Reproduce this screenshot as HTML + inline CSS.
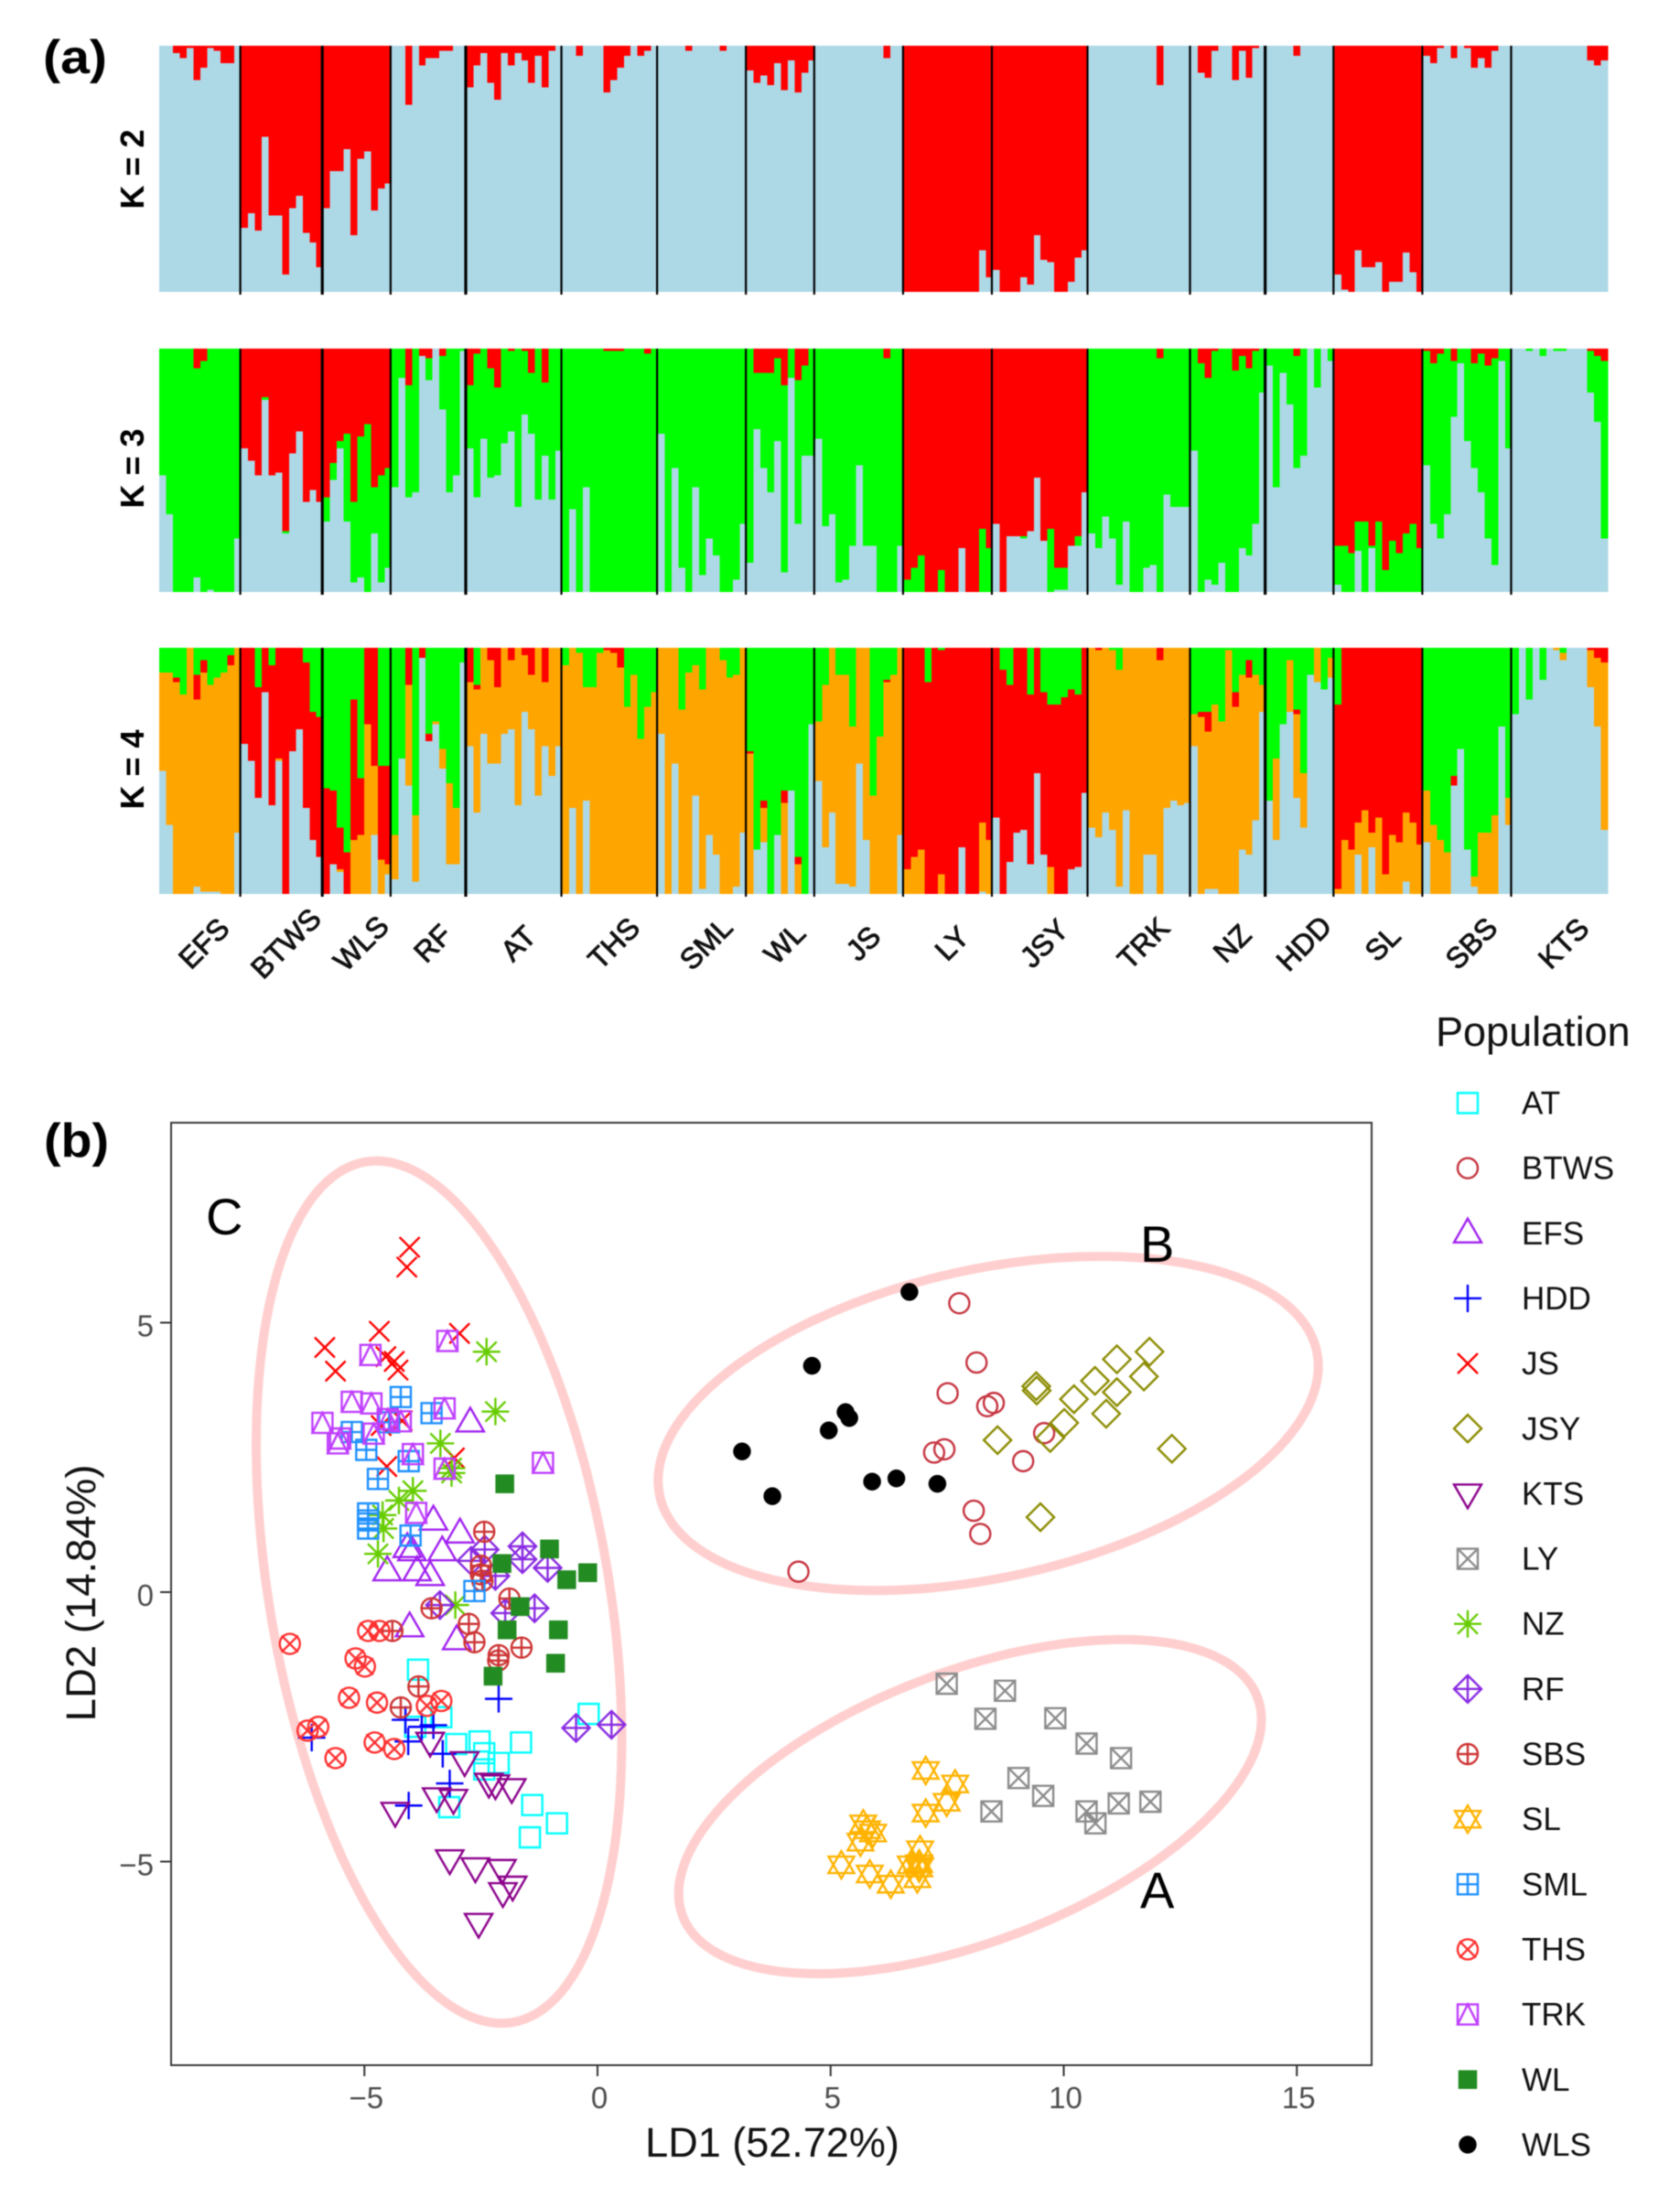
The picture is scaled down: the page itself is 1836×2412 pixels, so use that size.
<!DOCTYPE html>
<html lang="en">
<head>
<meta charset="utf-8">
<title>Population structure and discriminant analysis</title>
<style>
html,body{margin:0;padding:0;background:#fff;}
svg{display:block;filter:blur(0.6px);}
text{font-family:"Liberation Sans",Arial,sans-serif;}
</style>
</head>
<body>
<svg id="fig" xmlns="http://www.w3.org/2000/svg" width="1836" height="2412" viewBox="0 0 1836 2412">
  <rect x="0" y="0" width="1836" height="2412" fill="#ffffff"/>
  <g id="structure"></g>
  <g id="scatter"></g>
  <g id="legend"></g>
  <text x="47" y="80" font-size="52" font-weight="bold" fill="#000" textLength="70" lengthAdjust="spacingAndGlyphs">(a)</text>
  <text x="48" y="1264" font-size="52" font-weight="bold" fill="#000" textLength="71" lengthAdjust="spacingAndGlyphs">(b)</text>
  <text transform="translate(157,185) rotate(-90)" text-anchor="middle" font-size="36" font-weight="bold" fill="#000">K = 2</text>
  <text transform="translate(157,512) rotate(-90)" text-anchor="middle" font-size="36" font-weight="bold" fill="#000">K = 3</text>
  <text transform="translate(157,841) rotate(-90)" text-anchor="middle" font-size="36" font-weight="bold" fill="#000">K = 4</text>
  <text x="844" y="2357" text-anchor="middle" font-size="45" fill="#111">LD1 (52.72%)</text>
  <text transform="translate(104,1741) rotate(-90)" text-anchor="middle" font-size="45.5" fill="#111">LD2 (14.84%)</text>
  <text x="1569" y="1143" font-size="45" fill="#111">Population</text>
  <text x="225" y="1349" font-size="56" fill="#000">C</text>
  <text x="1246" y="1379" font-size="56" fill="#000">B</text>
  <text x="1246" y="2085" font-size="56" fill="#000">A</text>
</svg>
<script>
// ---------- Panel (a): categories ----------
const structurePops = ["EFS","BTWS","WLS","RF","AT","THS","SML","WL","JS","LY","JSY","TRK","NZ","HDD","SL","SBS","KTS"];

// ---------- K = 2 : percent red per individual (rest light blue) ----------
const k2Red = [
 [0,0,3,5,1,14,9,1,2,7,7,0],
 [74,68,75,37,69,69,93,66,61,76,80,90],
 [66,51,51,42,77,46,43,67,58,56],
 [0,0,24,0,8,5,5,2,2,0,0],
 [17,8,3,15,22,3,8,3,6,15,4,17,2,0],
 [0,0,4,0,0,0,19,14,9,4,0,4,2,0],
 [0,0,0,0,2,0,0,0,0,2,0,0,0],
 [10,15,12,16,7,18,6,19,11,6],
 [0,0,0,0,0,0,0,0,0,0,5,0,0],
 [100,100,100,100,100,100,100,100,100,100,100,83,94],
 [91,100,100,100,94,97,77,87,88,100,100,96,86,83],
 [0,0,0,0,0,0,0,0,0,0,16,0,0,0,0],
 [0,11,13,2,0,0,14,2,13,1,0],
 [0,0,0,0,4,0,0,0,0,0],
 [93,99,100,83,90,90,88,100,96,96,84,92,100],
 [4,7,1,0,5,0,1,9,5,9,2,0,0],
 [0,0,0,0,0,0,0,0,0,0,0,6,8,6]
];

// ---------- K = 3 : percent red and light blue (rest green) ----------
const k3Red = [
 [0,0,0,0,0,8,5,0,0,0,0,0],
 [41,46,52,20,52,51,75,43,34,63,58,63],
 [61,47,38,35,63,36,31,57,52,49],
 [0,0,15,0,3,4,0,3,0,0,0],
 [15,2,0,8,16,0,1,0,1,10,0,14,0,0],
 [0,0,0,0,0,0,1,1,1,0,0,0,2,0],
 [0,0,0,0,0,0,0,0,0,0,0,0,0],
 [0,10,10,10,4,15,0,13,7,0],
 [0,0,0,0,0,0,0,0,0,0,4,0,0],
 [95,90,85,100,100,91,100,100,82,100,100,74,82],
 [72,100,77,77,77,75,53,79,74,90,90,81,77,59],
 [0,0,0,0,0,0,0,0,0,0,4,0,0,0,0],
 [0,6,12,1,0,0,9,3,8,1,0],
 [0,0,0,0,3,0,0,0,0,0],
 [81,81,84,71,71,81,71,91,79,84,76,72,82],
 [1,6,2,0,5,0,0,6,2,7,4,0,0],
 [0,0,0,0,0,0,0,0,0,0,0,1,3,5]
];
const k3Blue = [
 [48,32,0,0,0,6,0,1,0,0,0,22],
 [59,54,48,79,48,49,24,57,66,37,42,37],
 [29,46,59,29,4,6,0,24,4,10],
 [43,88,39,41,97,87,100,75,41,48,99],
 [59,39,63,47,48,61,66,35,73,65,38,56,38,58],
 [0,34,0,43,0,0,0,0,0,0,0,0,0,0],
 [65,0,51,10,0,43,7,22,15,0,0,5,28],
 [12,67,51,41,62,8,88,28,56,56],
 [63,27,32,4,5,19,52,19,19,0,0,0,19],
 [0,0,0,0,0,0,0,0,18,0,0,0,0],
 [28,0,23,23,22,25,47,21,0,1,1,19,19,41],
 [24,18,31,22,3,29,0,0,10,11,0,40,35,35,35],
 [58,0,5,3,12,0,0,18,15,28,82],
 [93,43,90,77,51,56,100,84,100,95],
 [3,0,0,17,0,18,0,0,0,0,0,0,0],
 [52,28,22,32,72,94,62,51,41,22,11,95,59],
 [100,100,99,100,97,100,99,99,100,100,100,82,70,22]
];

// ---------- K = 4 : percent green, red, light blue (rest orange) ----------
const k4Green = [
 [10,10,12,19,0,11,5,15,12,10,3,0],
 [0,0,16,0,7,0,0,0,0,6,26,28],
 [57,58,73,83,21,53,0,0,48,48],
 [76,45,0,68,0,35,30,41,55,65,6],
 [0,15,0,0,0,0,0,0,0,0,0,0,0,0],
 [7,0,2,16,16,2,0,0,0,24,11,37,24,18],
 [0,0,0,25,10,7,17,0,0,5,12,11,0],
 [42,82,62,100,76,58,58,85,100,31],
 [30,15,0,11,11,32,0,0,60,36,13,11,0],
 [0,0,0,14,0,1,0,0,0,0,0,0,0],
 [0,9,15,0,0,19,0,18,23,23,20,17,19,0],
 [0,0,0,1,9,0,0,0,0,0,0,0,0,0,0],
 [27,26,26,23,30,1,18,11,5,11,15],
 [62,45,31,5,25,51,11,0,17,4],
 [23,0,0,0,0,0,0,0,0,0,0,0,0],
 [58,72,78,83,52,41,82,93,75,75,68,32,61],
 [27,0,21,0,13,0,0,2,0,0,0,0,0,0]
];
const k4Red = [
 [0,0,2,0,0,10,5,0,0,0,4,0],
 [39,46,45,18,57,45,100,42,33,59,52,57],
 [43,30,17,17,57,23,31,48,38,40],
 [0,0,15,0,4,3,0,0,0,0,0],
 [14,2,0,5,16,0,5,0,3,11,0,14,0,0],
 [0,0,0,0,0,0,1,2,8,0,0,0,0,0],
 [0,0,0,0,0,0,0,0,0,0,0,0,0],
 [1,0,3,0,0,5,0,3,0,0],
 [0,0,0,0,0,0,0,0,0,0,1,0,0],
 [90,85,82,86,100,91,100,100,81,100,100,71,78],
 [69,91,72,75,74,69,51,66,66,77,80,73,70,59],
 [0,1,0,0,0,0,0,0,0,0,5,0,0,0,0],
 [0,2,8,0,0,0,6,0,7,0,0],
 [0,0,0,0,2,0,0,0,0,0],
 [75,78,82,71,66,75,69,92,76,79,67,71,80],
 [0,0,0,0,4,0,0,0,0,0,0,0,0],
 [0,0,0,0,0,0,0,0,0,0,0,1,4,6]
];
const k4Blue = [
 [50,28,0,0,0,3,1,1,1,0,0,25],
 [61,54,39,82,36,54,0,58,67,35,22,15],
 [0,12,9,0,0,0,0,24,0,8],
 [6,55,44,5,96,62,69,51,12,12,94],
 [60,33,65,53,53,65,67,36,74,67,40,60,48,60],
 [0,35,0,38,0,0,0,0,0,0,0,0,0,0],
 [65,0,53,0,0,40,2,24,16,0,0,3,25],
 [0,18,21,0,24,0,42,0,0,69],
 [46,19,33,4,4,3,53,22,0,0,0,0,24],
 [0,0,0,0,0,0,0,0,19,0,0,1,0],
 [31,0,13,25,26,12,49,16,0,0,0,10,11,41],
 [27,23,33,26,3,34,0,0,16,16,0,35,38,36,37],
 [60,0,2,2,0,0,0,18,16,30,74],
 [38,22,69,74,39,27,89,86,83,88],
 [0,0,0,16,0,19,0,0,0,0,5,0,0],
 [21,0,0,0,44,59,18,3,0,0,0,68,28],
 [73,100,79,100,87,100,99,95,100,100,100,84,68,26]
];

// ---------- Panel (b): tick labels ----------
const xTicks = [-5,0,5,10,15];
const yTicks = [5,0,-5];

// ---------- Panel (b): cluster ellipses in LD units ----------
const ellipseNames = ["cluster-c","cluster-b","cluster-a"];
const ellipseLd1 = [-3.4,8.38,7.99];
const ellipseLd2 = [0.0,3.13,-3.98];
const ellipseSpreadLd1 = [3.92,7.08,6.25];
const ellipseSpreadLd2 = [8.0,3.1,3.1];
const ellipseTiltDeg = [110,70,58.6];

// ---------- Panel (b): legend entries ----------
const legendPops = ["AT","BTWS","EFS","HDD","JS","JSY","KTS","LY","NZ","RF","SBS","SL","SML","THS","TRK","WL","WLS"];
const legendColors = ["#00FFFF","#C5333F","#A020F0","#0000FF","#FF0000","#8B8B00","#8B008B","#8C8C8C","#66CD00","#8A2BE2","#CD3333","#FFB300","#1E90FF","#FF3030","#BF3EFF","#228B22","#000000"];

// ---------- Panel (b): LD1 / LD2 per individual ----------
const ld1AT = [-3.85,-0.19,-3.91,-3.35,-3.03,-2.53,-1.64,-2.43,-2.12,-2.43,-1.40,-0.87,-1.45,-3.18];
const ld2AT = [-1.44,-2.26,-2.50,-2.32,-2.82,-2.77,-2.79,-2.99,-3.17,-3.29,-3.95,-4.29,-4.55,-3.99];
const ld1BTWS = [7.76,8.13,7.51,8.50,8.36,9.58,7.44,7.22,9.13,8.07,8.21,4.31];
const ld2BTWS = [5.36,4.26,3.69,3.51,3.45,2.95,2.65,2.59,2.43,1.51,1.08,0.38];
const ld1EFS = [-2.73,-3.52,-2.95,-3.33,-3.98,-4.51,-3.87,-3.59,-4.03,-3.02,-4.08];
const ld2EFS = [3.15,1.33,1.09,0.76,0.76,0.39,0.39,0.30,-0.65,-0.89,0.82];
const ld1HDD = [-2.12,-4.12,-3.77,-3.52,-4.06,-3.32,-3.17,-4.05,-6.13];
const ld2HDD = [-1.98,-2.37,-2.50,-2.47,-2.77,-3.00,-3.55,-3.96,-2.70];
const ld1JS = [-4.03,-4.09,-4.68,-5.85,-5.62,-2.96,-4.54,-4.36,-4.28,-4.52,-3.07,-4.64,-4.19];
const ld2JS = [6.40,6.03,4.84,4.54,4.10,4.80,4.37,4.28,4.12,2.33,2.49,3.09,3.18];
const ld1JSY = [9.41,9.42,11.84,11.14,11.72,10.67,11.14,10.22,10.91,10.01,9.71,8.58,12.32,9.50];
const ld2JSY = [3.82,3.74,4.46,4.32,4.00,3.92,3.71,3.58,3.31,3.14,2.86,2.82,2.66,1.39];
const ld1KTS = [-3.59,-2.85,-2.33,-2.19,-1.84,-3.45,-3.09,-4.34,-3.17,-2.62,-2.05,-1.82,-2.03,-2.55];
const ld2KTS = [-2.78,-3.14,-3.54,-3.57,-3.64,-3.81,-3.84,-4.08,-4.96,-5.11,-5.14,-5.45,-5.57,-6.14];
const ld1LY = [7.49,8.74,8.32,9.82,10.49,11.23,9.03,9.56,11.18,11.86,10.49,10.68,8.45];
const ld2LY = [-1.70,-1.83,-2.35,-2.34,-2.81,-3.08,-3.45,-3.78,-3.92,-3.89,-4.07,-4.29,-4.07];
const ld1NZ = [-2.38,-2.19,-3.37,-3.13,-3.13,-3.96,-4.26,-4.61,-4.59,-4.71,-3.05];
const ld2NZ = [4.46,3.35,2.76,2.30,2.21,1.88,1.70,1.43,1.18,0.71,-0.24];
const ld1RF = [-2.42,-2.71,-1.61,-1.61,-1.07,-2.19,-3.38,-1.35,-1.98,-0.46,0.30];
const ld2RF = [0.79,0.58,0.85,0.61,0.45,0.30,-0.24,-0.30,-0.39,-2.52,-2.46];
const ld1SBS = [-2.43,-2.50,-2.50,-2.47,-3.56,-1.89,-4.40,-2.76,-2.64,-1.63,-2.12,-2.13,-3.84,-4.22];
const ld2SBS = [1.12,0.49,0.33,0.21,-0.30,-0.12,-0.72,-0.59,-0.93,-1.03,-1.17,-1.27,-1.75,-2.14];
const ld1SL = [7.04,7.67,7.49,7.04,5.70,5.91,5.64,5.23,5.84,6.29,6.92,6.72,6.90,6.86,5.78,6.90];
const ld2SL = [-3.31,-3.56,-3.90,-4.10,-4.30,-4.47,-4.64,-5.06,-5.23,-5.42,-4.78,-5.06,-5.12,-5.32,-4.41,-5.04];
const ld1SML = [-4.22,-3.56,-5.27,-4.96,-4.47,-4.05,-4.71,-4.92,-4.92,-4.92,-4.01,-2.64];
const ld2SML = [3.62,3.32,2.97,2.64,3.15,2.43,2.10,1.46,1.33,1.18,1.05,0.02];
const ld1THS = [-6.60,-5.19,-4.99,-5.33,-4.73,-3.66,-3.35,-4.92,-4.68,-6.22,-5.99,-5.62,-4.78,-4.36];
const ld2THS = [-0.96,-1.23,-1.38,-1.96,-2.05,-2.11,-2.02,-0.72,-0.72,-2.57,-2.50,-3.08,-2.79,-2.91];
const ld1TRK = [-3.22,-4.87,-5.27,-4.85,-5.90,-5.52,-5.57,-4.80,-4.50,-4.22,-3.28,-3.96,-3.28,-1.17,-3.89];
const ld2TRK = [4.66,4.40,3.53,3.50,3.14,2.85,2.76,2.94,3.21,3.17,3.41,2.56,2.29,2.40,1.47];
const ld1WL = [-1.99,-1.03,-2.05,-0.66,-0.21,-1.66,-1.94,-0.84,-0.90,-2.24];
const ld2WL = [2.01,0.80,0.53,0.23,0.36,-0.27,-0.70,-0.70,-1.32,-1.56];
const ld1WLS = [6.69,4.60,5.32,5.40,4.96,3.10,3.75,5.89,6.41,7.29];
const ld2WLS = [5.57,4.20,3.34,3.23,3.00,2.61,1.78,2.05,2.11,2.01];

const scatterLd1 = [ld1AT,ld1BTWS,ld1EFS,ld1HDD,ld1JS,ld1JSY,ld1KTS,ld1LY,ld1NZ,ld1RF,ld1SBS,ld1SL,ld1SML,ld1THS,ld1TRK,ld1WL,ld1WLS];
const scatterLd2 = [ld2AT,ld2BTWS,ld2EFS,ld2HDD,ld2JS,ld2JSY,ld2KTS,ld2LY,ld2NZ,ld2RF,ld2SBS,ld2SL,ld2SML,ld2THS,ld2TRK,ld2WL,ld2WLS];

// ---------- Rendering ----------
const NS = "http://www.w3.org/2000/svg";
function mk(parent, tag, attrs, txt) {
  const el = document.createElementNS(NS, tag);
  for (const k in attrs) el.setAttribute(k, attrs[k]);
  if (txt !== undefined) el.textContent = txt;
  parent.appendChild(el);
  return el;
}

const COL = {blue:"#ADD8E6", red:"#FF0000", green:"#00FF00", orange:"#FFA500"};
const PLOT_L = 174, PLOT_R = 1757;
const rows = [{t:50,b:319},{t:381,b:647},{t:708,b:977}];
const totalBars = k2Red.reduce((s,g)=>s+g.length,0);
const barW = (PLOT_R-PLOT_L)/totalBars;
const barX = i => PLOT_L + i*barW;
const pctY = (row,p) => row.t + Math.min(100,Math.max(0,p))/100*(row.b-row.t);

const structure = document.getElementById("structure");

function drawSegment(row, i, from, to, color) {
  if (to <= from) return;
  const y0 = pctY(row, from), y1 = pctY(row, to);
  const r = mk(structure, "rect", {x:barX(i).toFixed(2), y:y0.toFixed(2), width:(barW+0.4).toFixed(2), height:(y1-y0).toFixed(2), fill:color, "shape-rendering":"crispEdges"});
  
  
}

let idx = 0;
const boundaries = [];
const boundaryPops = [];
structurePops.forEach((pop, g) => {
  const n = k2Red[g].length;
  for (let j = 0; j < n; j++) {
    const i = idx + j;
    // K = 2
    drawSegment(rows[0], i, 0, k2Red[g][j], COL.red);
    drawSegment(rows[0], i, k2Red[g][j], 100, COL.blue);
    // K = 3
    const r3 = k3Red[g][j], b3 = k3Blue[g][j];
    drawSegment(rows[1], i, 0, r3, COL.red);
    drawSegment(rows[1], i, r3, 100-b3, COL.green);
    drawSegment(rows[1], i, Math.max(r3,100-b3), 100, COL.blue);
    // K = 4
    const g4 = k4Green[g][j], r4 = k4Red[g][j], b4 = k4Blue[g][j];
    drawSegment(rows[2], i, 0, g4, COL.green);
    drawSegment(rows[2], i, g4, g4+r4, COL.red);
    drawSegment(rows[2], i, g4+r4, 100-b4, COL.orange);
    drawSegment(rows[2], i, Math.max(g4+r4,100-b4), 100, COL.blue);
  }
  const cx = barX(idx + n/2);
  const lab = mk(structure, "text", {transform:"translate("+(cx+4).toFixed(1)+",1031) rotate(-45)", "text-anchor":"middle", "dominant-baseline":"central", "font-size":"32", fill:"#111", stroke:"#111", "stroke-width":"0.9"}, pop);
  
  
  idx += n;
  if (g < structurePops.length-1) {
    boundaries.push(idx);
    boundaryPops.push(structurePops[g+1]);
  }
});
const heavySeparators = ["WLS","AT","HDD"];
rows.forEach(row => {
  boundaries.forEach((b, n) => {
    const heavy = heavySeparators.includes(boundaryPops[n]);
    const l = mk(structure, "line", {x1:(barX(b)-1).toFixed(2), x2:(barX(b)-1).toFixed(2), y1:row.t, y2:row.b+3, stroke:"#000", "stroke-width":heavy?"3.2":"2.2"});
    
    
  });
});

// Scatter axes
const xS = v => 653 + 50.95*v;
const yS = v => 1740 - 58.9*v;
const BOX = {l:187, r:1499, t:1227, b:2257};
const scatter = document.getElementById("scatter");

const box = mk(scatter, "rect", {x:BOX.l, y:BOX.t, width:BOX.r-BOX.l, height:BOX.b-BOX.t, fill:"#fff", stroke:"#3a3a3a", "stroke-width":"2"});



xTicks.forEach(v => {
  const t = mk(scatter, "line", {x1:xS(v), x2:xS(v), y1:BOX.b, y2:BOX.b+12, stroke:"#333", "stroke-width":"2"});
  
  
  const s = mk(scatter, "text", {x:xS(v)+2, y:2304, "text-anchor":"middle", "font-size":"33", fill:"#4d4d4d"}, String(v).replace("-","\u2212"));
  
  
});
yTicks.forEach(v => {
  const t = mk(scatter, "line", {x1:BOX.l-12, x2:BOX.l, y1:yS(v), y2:yS(v), stroke:"#333", "stroke-width":"2"});
  
  
  const s = mk(scatter, "text", {x:168, y:yS(v)+15, "text-anchor":"end", "font-size":"33", fill:"#4d4d4d"}, String(v).replace("-","\u2212"));
  
  
});

// Ellipses
ellipseNames.forEach((name, k) => {
  const phi = ellipseTiltDeg[k]*Math.PI/180;
  let d = "";
  for (let s = 0; s < 180; s++) {
    const t = s/180*2*Math.PI;
    const px = xS(ellipseLd1[k] + ellipseSpreadLd1[k]*Math.cos(t));
    const py = yS(ellipseLd2[k] + ellipseSpreadLd2[k]*Math.cos(t-phi));
    d += (s ? "L" : "M") + px.toFixed(1) + " " + py.toFixed(1);
  }
  const e = mk(scatter, "path", {d:d+"Z", fill:"none", stroke:"#FFCFCF", "stroke-width":"10"});
  
  
});

// R-style plotting symbols
const PCH = [0,1,2,3,4,5,6,7,8,9,10,11,12,13,14,15,16];
function markerPath(pch, x, y) {
  const sq = h => `M${x-h} ${y-h}H${x+h}V${y+h}H${x-h}Z`;
  const ci = r => `M${x-r} ${y}A${r} ${r} 0 1 0 ${x+r} ${y}A${r} ${r} 0 1 0 ${x-r} ${y}Z`;
  const plus = h => `M${x-h} ${y}H${x+h}M${x} ${y-h}V${y+h}`;
  const cross = h => `M${x-h} ${y-h}L${x+h} ${y+h}M${x-h} ${y+h}L${x+h} ${y-h}`;
  const dia = h => `M${x-h} ${y}L${x} ${y-h}L${x+h} ${y}L${x} ${y+h}Z`;
  const up = (w,a,b) => `M${x-w} ${y+b}L${x} ${y-a}L${x+w} ${y+b}Z`;
  const dn = (w,a,b) => `M${x-w} ${y-b}L${x} ${y+a}L${x+w} ${y-b}Z`;
  switch (pch) {
    case 0: return sq(11);
    case 1: return ci(11);
    case 2: return up(15,16,10);
    case 3: return plus(15);
    case 4: return cross(11);
    case 5: return dia(15);
    case 6: return dn(15,16,10);
    case 7: return sq(11)+cross(11);
    case 8: return plus(15)+cross(11);
    case 9: return dia(15)+plus(15);
    case 10: return ci(11)+plus(11);
    case 11: return up(14,15,9)+dn(14,15,9);
    case 12: return sq(11)+plus(11);
    case 13: return ci(11)+cross(9);
    case 14: return sq(11)+up(11,11,11);
    case 15: return sq(10);
    case 16: return ci(9.5);
  }
}
function drawMarker(parent, pch, x, y, color) {
  const filled = pch >= 15;
  const m = mk(parent, "path", {d:markerPath(pch,x,y), fill:filled?color:"none", stroke:color, "stroke-width":filled?"0.5":"2.4", "stroke-linejoin":"miter"});
  return m;
}

legendPops.forEach((pop, k) => {
  const xs = scatterLd1[k], ys = scatterLd2[k];
  xs.forEach((v, i) => {
    const m = drawMarker(scatter, PCH[k], xS(v), yS(ys[i]), legendColors[k]);
    
    
  });
});

// Legend
const legend = document.getElementById("legend");
legendPops.forEach((pop, k) => {
  const y = 1205.5 + k*71.15;
  const m = drawMarker(legend, PCH[k], 1604, y, legendColors[k]);
  
  
  const t = mk(legend, "text", {x:1663, y:y+12, "font-size":"35", fill:"#111"}, pop);
  
  
});
</script>
</body>
</html>
